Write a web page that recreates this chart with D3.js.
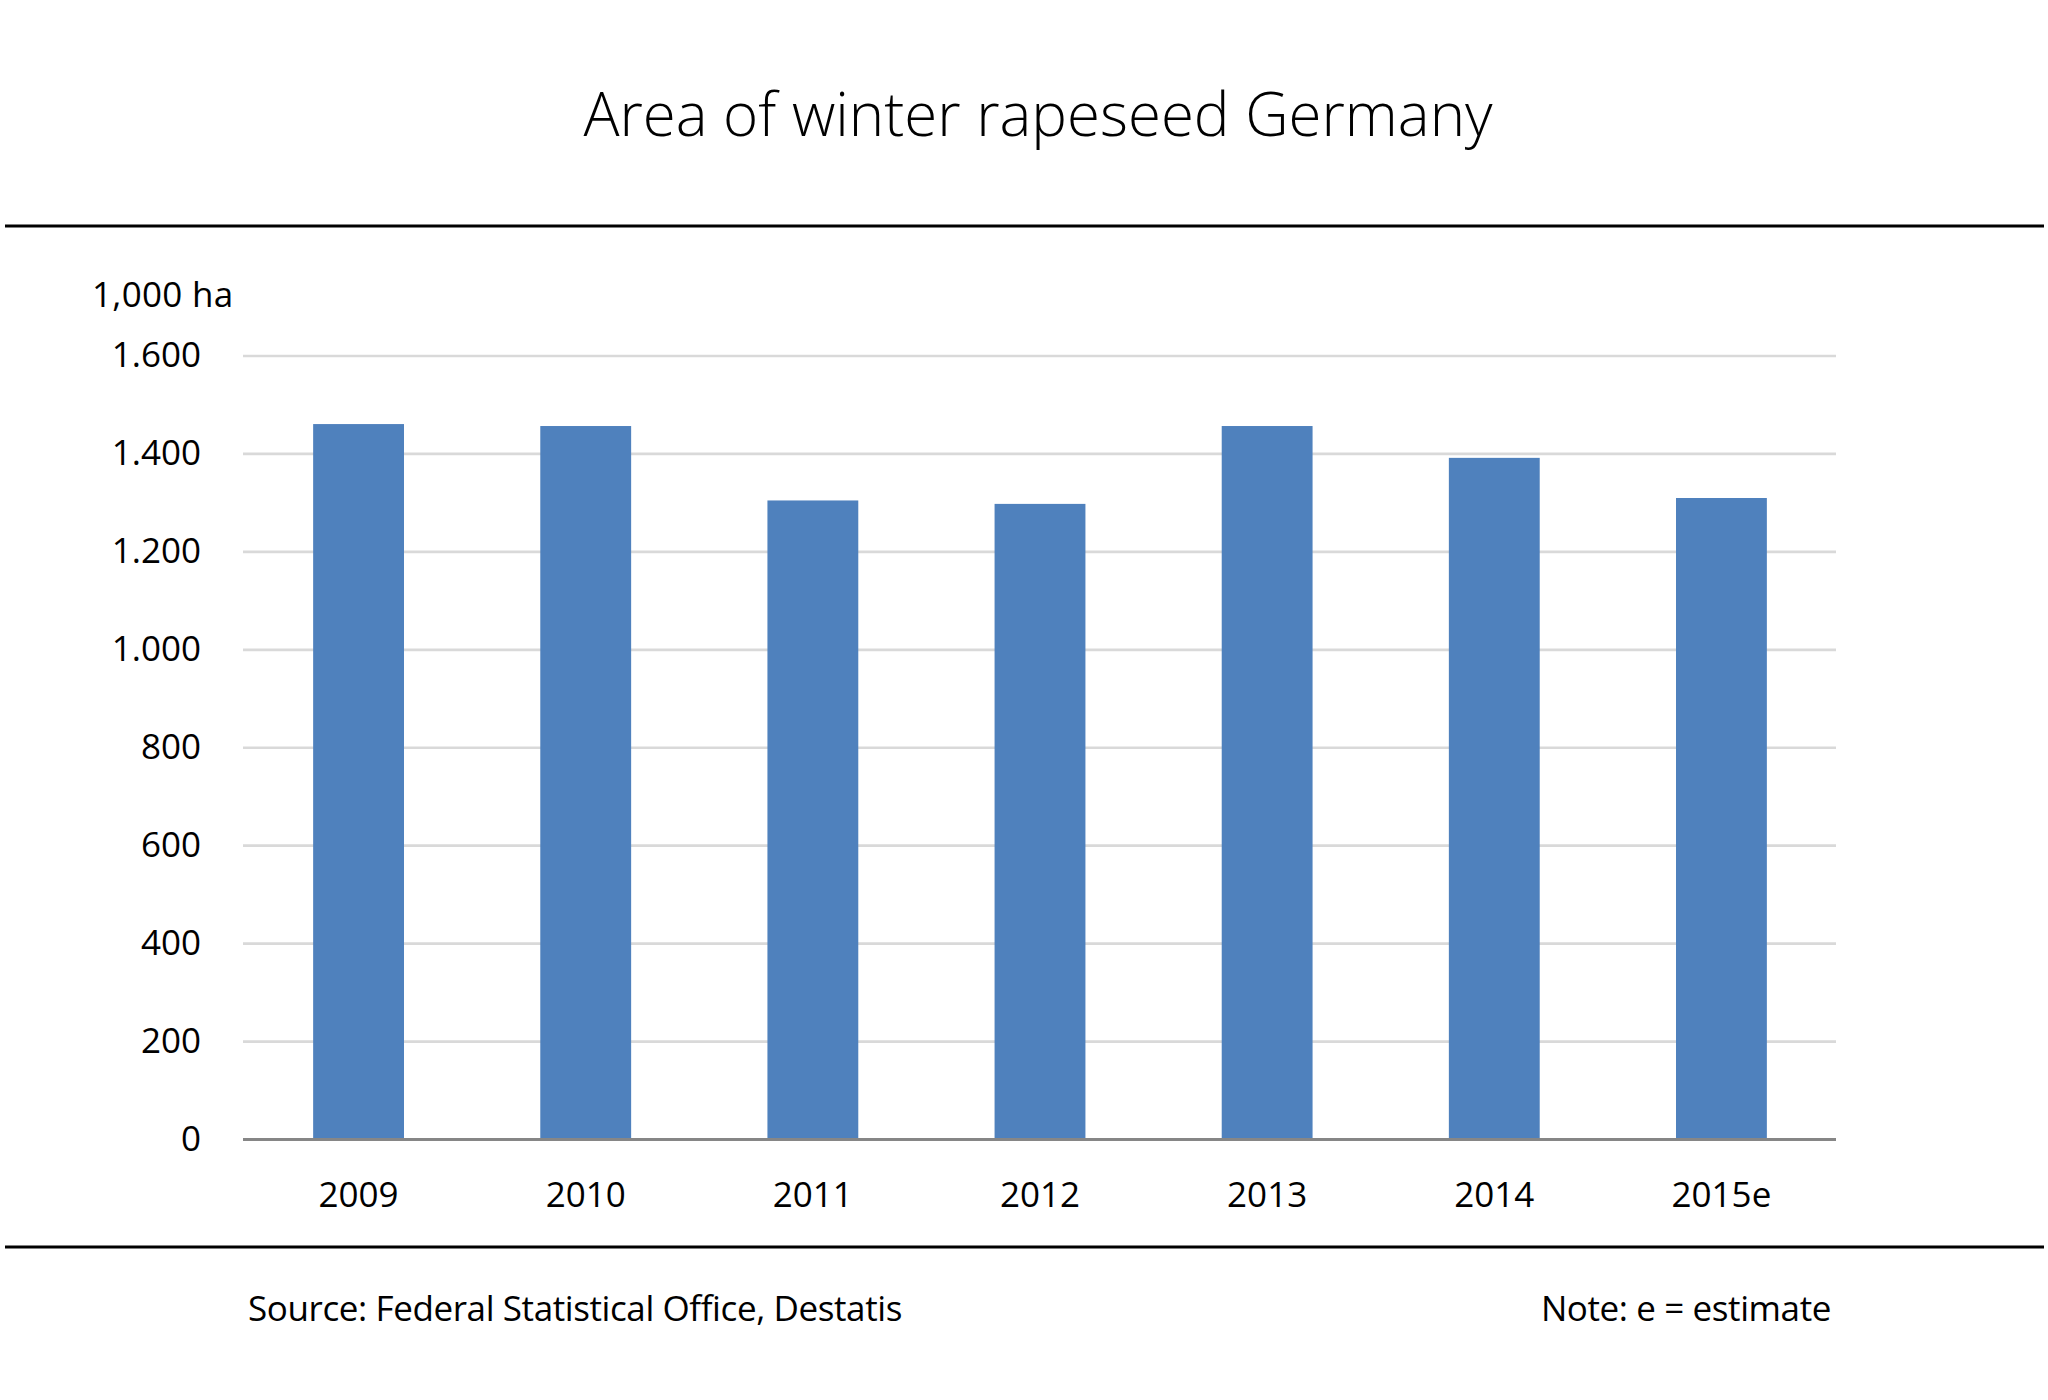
<!DOCTYPE html>
<html>
<head>
<meta charset="utf-8">
<script src="https://cdn.jsdelivr.net/npm/d3@7"></script>
<style>
  body { margin: 0; background: #fff; }
  text { font-family: "Open Sans", sans-serif; fill: #000; }
</style>
</head>
<body>
<div id="chart"></div>
<script>
// data
const years = ["2009", "2010", "2011", "2012", "2013", "2014", "2015e"];
const area = [1461, 1457, 1305, 1298, 1457, 1392, 1310];
const yTicks = [0, 200, 400, 600, 800, 1000, 1200, 1400, 1600];

const width = 2048;
const height = 1400;

const svg = d3
  .select("#chart")
  .append("svg")
  .attr("width", width)
  .attr("height", height)
  .attr("viewBox", [0, 0, width, height]);

// title
svg
  .append("text")
  .attr("x", 1038)
  .attr("y", 136)
  .attr("text-anchor", "middle")
  .attr("font-size", 60)
  .attr("font-weight", 300)
  .text("Area of winter rapeseed Germany");

// black rules above and below the plot
svg
  .selectAll("line.rule")
  .data([226, 1247])
  .join("line")
  .attr("class", "rule")
  .attr("x1", 5)
  .attr("x2", 2044)
  .attr("y1", (d) => d)
  .attr("y2", (d) => d)
  .attr("stroke", "#000")
  .attr("stroke-width", 3);

const plotLeft = 243;
const plotRight = 1836;

const x = d3
  .scaleBand()
  .domain(years)
  .range([245, 1835])
  .paddingInner(0.6)
  .paddingOuter(0.3);

const y = d3.scaleLinear().domain([0, 1600]).range([1139.5, 356]);

// gridlines
svg
  .append("g")
  .selectAll("line")
  .data(yTicks.filter((d) => d > 0))
  .join("line")
  .attr("x1", plotLeft)
  .attr("x2", plotRight)
  .attr("y1", (d) => y(d))
  .attr("y2", (d) => y(d))
  .attr("stroke", "#d9d9d9")
  .attr("stroke-width", 2.7);

// y axis labels (German thousands separator)
const fmt = (d) => d3.format(",")(d).replace(",", ".");
const yAxis = d3
  .axisLeft(y)
  .tickValues(yTicks)
  .tickFormat(fmt)
  .tickSize(0)
  .tickPadding(0);
svg
  .append("g")
  .attr("transform", "translate(201,0)")
  .call(yAxis)
  .call((g) => g.select(".domain").remove())
  .call((g) =>
    g
      .selectAll("text")
      .attr("font-family", "Open Sans, sans-serif")
      .attr("font-size", 35)
      .attr("fill", "#000")
      .attr("dy", "0.3em")
  );

// bars
svg
  .append("g")
  .selectAll("rect")
  .data(area)
  .join("rect")
  .attr("x", (d, i) => x(years[i]))
  .attr("y", (d) => y(d))
  .attr("width", x.bandwidth())
  .attr("height", (d) => y(0) - y(d))
  .attr("fill", "#4f81bd");

// baseline
svg
  .append("line")
  .attr("x1", plotLeft)
  .attr("x2", plotRight)
  .attr("y1", y(0))
  .attr("y2", y(0))
  .attr("stroke", "#868686")
  .attr("stroke-width", 3);

// x axis labels
const xAxis = d3.axisBottom(x).tickSize(0).tickPadding(0);
svg
  .append("g")
  .attr("transform", `translate(0,${y(0)})`)
  .call(xAxis)
  .call((g) => g.select(".domain").remove())
  .call((g) =>
    g
      .selectAll("text")
      .attr("font-family", "Open Sans, sans-serif")
      .attr("font-size", 35)
      .attr("fill", "#000")
      .attr("dy", null)
      .attr("y", 67)
  );

// unit label
svg
  .append("text")
  .attr("x", 92)
  .attr("y", 307)
  .attr("font-size", 35)
  .attr("letter-spacing", 0.3)
  .text("1,000 ha");

// footer
svg
  .append("text")
  .attr("x", 248)
  .attr("y", 1321)
  .attr("font-size", 35)
  .attr("letter-spacing", -0.4)
  .text("Source: Federal Statistical Office, Destatis");

svg
  .append("text")
  .attr("x", 1831)
  .attr("y", 1321)
  .attr("text-anchor", "end")
  .attr("font-size", 35)
  .attr("letter-spacing", -0.4)
  .text("Note: e = estimate");
</script>
</body>
</html>
